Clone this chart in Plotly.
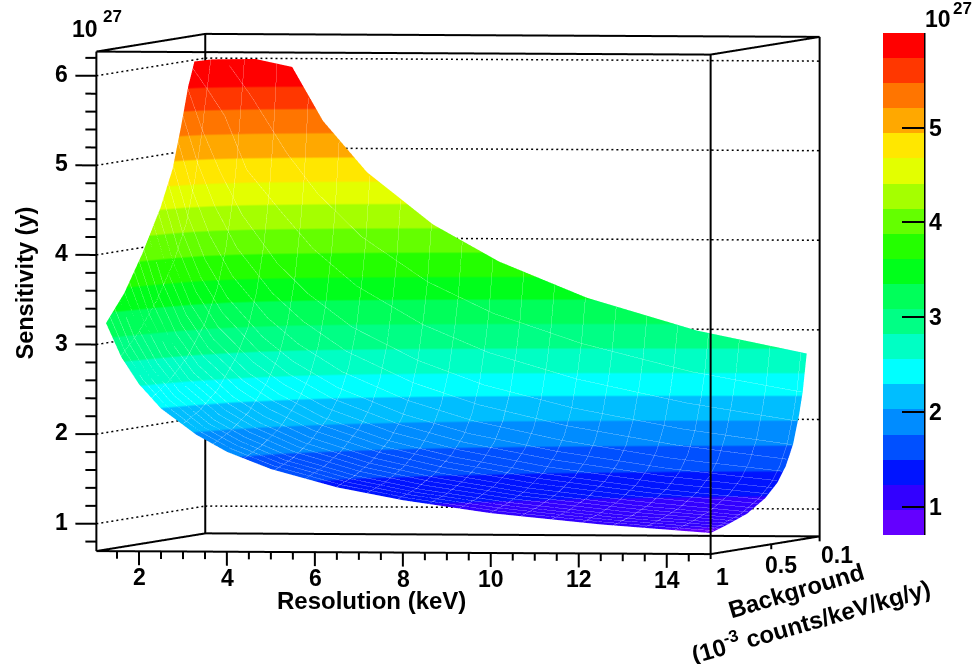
import math
import plotly.graph_objects as go

# ---------- data (sensitivity in units of 1e27 y) ----------
resolution_kev = [1.25, 1.6, 2.0, 2.5, 3.3, 4.0, 5.0, 6.5, 8.0, 10.0, 12.5, 15.0]
background_rows = [
    [1.0, .85, .7, .55, .45, .38, .32, .300, .285, .27],
    [1.0, .85, .7, .55, .45, .38, .32, .300, .275, .25],
    [1.0, .85, .7, .55, .45, .38, .32, .295, .265, .235],
    [1.0, .85, .7, .55, .45, .38, .32, .285, .250, .22],
    [1.0, .85, .7, .55, .45, .38, .32, .270, .240, .207],
    [1.0, .85, .7, .55, .45, .38, .32, .270, .240, .207],
    [1.0, .85, .7, .55, .45, .38, .32, .270, .240, .207],
    [1.0, .85, .7, .55, .45, .38, .32, .270, .240, .207],
    [1.0, .85, .7, .55, .45, .38, .32, .270, .240, .207],
    [1.0, .85, .7, .55, .45, .38, .32, .270, .240, .207],
    [1.0, .85, .7, .55, .45, .38, .32, .270, .240, .207],
    [1.0, .85, .7, .55, .45, .38, .32, .270, .240, .207],
]
sensitivity = [
    [3.24, 3.54, 3.95, 4.43, 4.84, 5.30, 5.74, 5.84, 5.92, 6.00],
    [2.86, 3.10, 3.42, 3.85, 4.25, 4.72, 5.25, 5.50, 5.75, 6.02],
    [2.56, 2.75, 3.00, 3.38, 3.76, 4.21, 4.79, 5.20, 5.60, 6.02],
    [2.29, 2.44, 2.66, 3.00, 3.35, 3.76, 4.31, 4.70, 5.40, 6.02],
    [2.00, 2.12, 2.31, 2.62, 2.92, 3.28, 3.77, 4.46, 4.98, 5.93],
    [1.81, 1.93, 2.10, 2.38, 2.65, 2.98, 3.43, 4.05, 4.53, 5.33],
    [1.62, 1.72, 1.88, 2.12, 2.37, 2.66, 3.06, 3.62, 4.05, 4.76],
    [1.42, 1.51, 1.65, 1.86, 2.08, 2.33, 2.69, 3.18, 3.55, 4.18],
    [1.28, 1.36, 1.49, 1.68, 1.87, 2.10, 2.42, 2.86, 3.20, 3.77],
    [1.14, 1.22, 1.33, 1.50, 1.68, 1.88, 2.17, 2.56, 2.87, 3.37],
    [1.02, 1.09, 1.19, 1.34, 1.50, 1.68, 1.94, 2.29, 2.56, 3.01],
    [0.93, 1.00, 1.08, 1.22, 1.37, 1.54, 1.77, 2.09, 2.34, 2.76],
]
band_colors = [
    "#6400ff", "#3200ff", "#0014ff", "#0050ff", "#008cff", "#00beff", "#00ffff",
    "#00ffc4", "#00ff85", "#00ff5a", "#00ff1b", "#24ff00", "#64ff00", "#a5ff00",
    "#e3ff00", "#ffe700", "#ffa800", "#ff7500", "#ff3700", "#ff0000",
]
x_major = [2, 4, 6, 8, 10, 12, 14]
x_minor = [1.5, 2.5, 3, 3.5, 4.5, 5, 5.5, 6.5, 7, 7.5, 8.5, 9, 9.5, 10.5, 11, 11.5, 12.5, 13, 13.5, 14.5]
z_major = [1, 2, 3, 4, 5, 6]
z_minor = [0.8, 1.2, 1.4, 1.6, 1.8, 2.2, 2.4, 2.6, 2.8, 3.2, 3.4, 3.6, 3.8, 4.2, 4.4, 4.6, 4.8, 5.2, 5.4, 5.6, 5.8, 6.2]
b_ticks = [1, 0.5, 0.1]
wire_res = [1.6 + 0.7 * i for i in range(20)]
wire_bkg = [0.96 - 0.04 * i for i in range(19)]

XMIN, XMAX = 1.03, 15.0
BNEAR, BFAR = 1.0, 0.1
ZMIN, ZMAX = 0.695, 6.27
CMIN, CMAX = 0.70, 6.0
FONT = "Liberation Sans"
BLACK = "#000000"

# stepped colour scale
n = len(band_colors)
colorscale = []
for i, c in enumerate(band_colors):
    colorscale += [[i / n, c], [(i + 1) / n, c]]


def segs(items):
    xs, ys, zs = [], [], []
    for (a, b) in items:
        xs += [a[0], b[0], None]
        ys += [a[1], b[1], None]
        zs += [a[2], b[2], None]
    return xs, ys, zs


def line_trace(items, width=4):
    xs, ys, zs = segs(items)
    return go.Scatter3d(x=xs, y=ys, z=zs, mode="lines", hoverinfo="skip", showlegend=False,
                        line=dict(color=BLACK, width=width))


# surface
res_grid = [[r] * len(background_rows[0]) for r in resolution_kev]
surface = go.Surface(
    x=res_grid, y=background_rows, z=sensitivity,
    colorscale=colorscale, cmin=CMIN, cmax=CMAX,
    lighting=dict(ambient=1, diffuse=0, specular=0, roughness=1, fresnel=0),
    hoverinfo="skip",
    colorbar=dict(
        x=883 / 978, xanchor="left", xpad=0, ypad=0, y=(664 - 284) / 664, yanchor="middle",
        len=502, lenmode="pixels", thickness=41.3, thicknessmode="pixels",
        tickvals=z_major[:-1], ticktext=[str(v) for v in z_major[:-1]],
        ticks="inside", ticklen=22, tickwidth=2, tickcolor=BLACK,
        tickfont=dict(family=FONT, size=23, color=BLACK, weight="bold"),
        outlinewidth=0,
    ),
)

# faint wire lines lying on the surface (slightly towards the viewer)
LIFT = 0.012
wx, wy, wz = [], [], []
for r in wire_res:
    i = max(k for k in range(len(resolution_kev) - 1) if resolution_kev[k] <= r)
    t = (r - resolution_kev[i]) / (resolution_kev[i + 1] - resolution_kev[i])
    for b0, b1, z0, z1 in zip(background_rows[i], background_rows[i + 1], sensitivity[i], sensitivity[i + 1]):
        wx.append(r)
        wy.append(b0 + (b1 - b0) * t + LIFT)
        wz.append(z0 + (z1 - z0) * t)
    wx.append(None); wy.append(None); wz.append(None)
for b in wire_bkg:
    for r, col_b, col_z in zip(resolution_kev, background_rows, sensitivity):
        for k in range(len(col_b) - 1):
            if col_b[k] >= b >= col_b[k + 1]:
                t = (col_b[k] - b) / (col_b[k] - col_b[k + 1])
                wx.append(r)
                wy.append(b + LIFT)
                wz.append(col_z[k] + (col_z[k + 1] - col_z[k]) * t)
                break
    wx.append(None); wy.append(None); wz.append(None)
wires = go.Scatter3d(x=wx, y=wy, z=wz, mode="lines", hoverinfo="skip", showlegend=False, opacity=0.45,
                     line=dict(color="#ffffff", width=1))

# box
corners = lambda z: [(XMIN, BNEAR, z), (XMAX, BNEAR, z), (XMAX, BFAR, z), (XMIN, BFAR, z)]
box = []
for z in (ZMIN, ZMAX):
    c = corners(z)
    box += [(c[i], c[(i + 1) % 4]) for i in range(4)]
for a, b in zip(corners(ZMIN), corners(ZMAX)):
    box.append((a, b))

# dotted grid on the back walls, one short stroke per dot
grid = []
for z in z_major:
    b = BNEAR
    while b > BFAR:
        grid.append(((XMIN, b, z), (XMIN, b - 0.0165, z)))
        b -= 0.0413
    x = XMIN
    while x < XMAX:
        grid.append(((x, BFAR, z), (x + 0.045, BFAR, z)))
        x += 0.114

# ticks
ticks = []
for z in z_major:
    ticks.append(((XMIN, BNEAR, z), (XMIN - 0.477, BNEAR, z)))
for z in z_minor:
    ticks.append(((XMIN, BNEAR, z), (XMIN - 0.25, BNEAR, z)))
for x in x_major:
    ticks.append(((x, BNEAR, ZMIN), (x, BNEAR, ZMIN - 0.156)))
for x in x_minor:
    ticks.append(((x, BNEAR, ZMIN), (x, BNEAR, ZMIN - 0.084)))
for b in b_ticks:
    ticks.append(((XMAX, b, ZMIN), (XMAX, b, ZMIN - 0.055)))

fig = go.Figure([surface, line_trace(box), line_trace(grid, width=3), line_trace(ticks), wires])

# tick labels stay attached to the axes
tick_font = dict(family=FONT, size=23, color=BLACK, weight="bold")
scene_ann = []
for z in z_major:
    scene_ann.append(dict(x=XMIN, y=BNEAR, z=z, text=str(z), showarrow=False, font=tick_font,
                          xshift=-35, yshift=2))
for x in x_major:
    scene_ann.append(dict(x=x, y=BNEAR, z=ZMIN, text=str(x), showarrow=False, font=tick_font,
                          xshift=0.5, yshift=-26))
for b, dx, dy in zip(b_ticks, (12, 10, 17), (-23, -21, -19)):
    scene_ann.append(dict(x=XMAX, y=b, z=ZMIN, text=str(b), showarrow=False, font=tick_font,
                          xshift=dx, yshift=dy))

# camera of the orthographic view
az = math.atan(0.1733)
el = math.asin(0.02815)
R = 2.0
ZOOM = 2.303
pad_x, pad_y, pad_z = 0.6, 0.06, 0.2
sx, sy, sz = 677.5, 723.7, 535.9

title_font = dict(family=FONT, size=24, color=BLACK, weight="bold")


def page(xp, yp, text, font=title_font, angle=0):
    return dict(xref="paper", yref="paper", x=xp / 978, y=1 - yp / 664, text=text, showarrow=False,
                font=font, textangle=angle, xanchor="center", yanchor="middle")


sup_font = dict(family=FONT, size=17, color=BLACK, weight="bold")
annotations = [
    page(371.5, 600, "Resolution (keV)"),
    page(24, 283.5, "Sensitivity (y)", dict(family=FONT, size=23.5, color=BLACK, weight="bold"), angle=-90),
    page(796, 590, "Background", angle=-16.5),
    page(810, 620, "(10<sup>-3</sup> counts/keV/kg/y)", angle=-16),
    page(85, 29, "10", tick_font),
    page(112.5, 17, "27", sup_font),
    page(938, 19, "10", tick_font),
    page(962.5, 8, "27", sup_font),
]

axis_off = dict(visible=False, showspikes=False)
fig.update_layout(
    width=978, height=664, autosize=False, showlegend=False,
    margin=dict(l=0, r=0, t=0, b=0), paper_bgcolor="white", plot_bgcolor="white",
    font=dict(family=FONT),
    annotations=annotations,
    shapes=[dict(type="line", xref="paper", yref="paper", x0=924.5 / 978, x1=924.5 / 978,
                 y0=1 - 33 / 664, y1=1 - 535 / 664, line=dict(color=BLACK, width=2))],
    scene=dict(
        domain=dict(x=[0, 916 / 978], y=[76 / 664, 1]),
        xaxis=dict(range=[XMIN - pad_x, XMAX + pad_x], **axis_off),
        yaxis=dict(range=[BNEAR + pad_y, BFAR - pad_y], **axis_off),
        zaxis=dict(range=[ZMIN - pad_z, ZMAX + pad_z], **axis_off),
        aspectmode="manual",
        aspectratio=dict(x=ZOOM, y=ZOOM * sy / sx, z=ZOOM * sz / sx),
        camera=dict(
            projection=dict(type="orthographic"),
            up=dict(x=0, y=0, z=1),
            center=dict(x=0, y=0, z=0),
            eye=dict(x=R * math.sin(az) * math.cos(el), y=-R * math.cos(az) * math.cos(el), z=R * math.sin(el)),
        ),
        annotations=scene_ann,
    ),
)

fig.write_html("out.html", config=dict(displayModeBar=False),
               post_script="document.body.style.margin='0';")
